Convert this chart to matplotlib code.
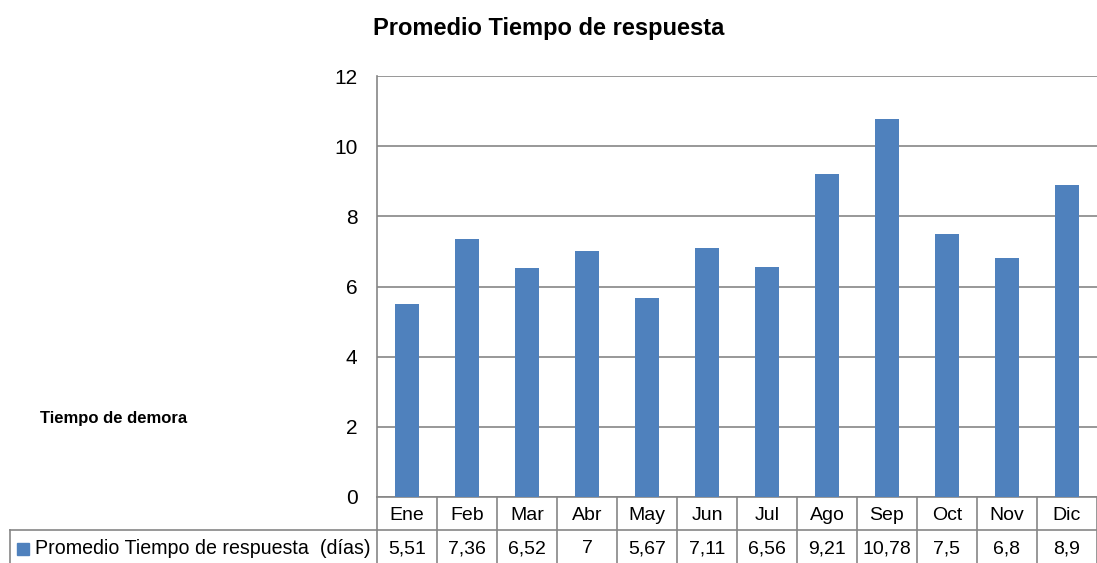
import matplotlib
matplotlib.use("Agg")
import matplotlib.pyplot as plt
import matplotlib.transforms as mtransforms
from matplotlib.patches import Rectangle
from matplotlib import font_manager

months = ["Ene", "Feb", "Mar", "Abr", "May", "Jun", "Jul", "Ago", "Sep", "Oct", "Nov", "Dic"]
values = [5.51, 7.36, 6.52, 7, 5.67, 7.11, 6.56, 9.21, 10.78, 7.5, 6.8, 8.9]
value_labels = ["5,51", "7,36", "6,52", "7", "5,67", "7,11", "6,56", "9,21", "10,78", "7,5", "6,8", "8,9"]
series_name = "Promedio Tiempo de respuesta  (días)"
title = "Promedio Tiempo de respuesta"
ylabel = "Tiempo de demora"
yticks = [0, 2, 4, 6, 8, 10, 12]

names = {f.name for f in font_manager.fontManager.ttflist}
fam = "Liberation Sans Narrow" if "Liberation Sans Narrow" in names else "Liberation Sans"
plt.rcParams["font.family"] = [fam, "DejaVu Sans"]

W, H = 1097, 563
fig = plt.figure(figsize=(W / 100, H / 100), dpi=100)
bar_color = "#4F81BD"
grid_color = "#868686"

# axes: left 377, right 1097, top 76, bottom 497 (pixels)
L, R, T, B = 377, 1097, 76, 497
ax = fig.add_axes([L / W, 1 - B / H, (R - L) / W, (B - T) / H])
x = list(range(len(months)))
ax.bar(x, values, width=0.39, color=bar_color, zorder=3)
ax.set_xlim(-0.5, len(months) - 0.5)
ax.set_ylim(0, 12)
ax.set_yticks(yticks)
ax.set_yticklabels([str(v) for v in yticks], fontsize=15)
ax.tick_params(axis="y", length=0, pad=14)
ax.set_xticks([])
ax.yaxis.grid(True, color=grid_color, linewidth=1.2, zorder=0)
for s in ["top", "right"]:
    ax.spines[s].set_visible(False)
ax.spines["left"].set_color(grid_color)
ax.spines["left"].set_linewidth(1.2)
ax.spines["bottom"].set_color(grid_color)
ax.spines["bottom"].set_linewidth(1.2)

# data table
row1_top, row1_bot, row2_bot = 497, 530, 563
tr = mtransforms.blended_transform_factory(ax.transData, fig.transFigure)
def fy(p):
    return 1 - p / H
lw = 1.2
for i in range(len(months) + 1):
    xx = i - 0.5
    ax.plot([xx, xx], [fy(row1_top), fy(row2_bot)], transform=tr, color=grid_color,
            lw=lw, clip_on=False)
ax.plot([-0.5, len(months) - 0.5], [fy(row1_bot), fy(row1_bot)], transform=tr,
        color=grid_color, lw=lw, clip_on=False)
fig.add_artist(plt.Line2D([10 / W, L / W], [fy(row1_bot), fy(row1_bot)], color=grid_color, lw=lw))
fig.add_artist(plt.Line2D([10 / W, 10 / W], [fy(row1_bot), fy(row2_bot)], color=grid_color, lw=lw))
for i, m in enumerate(months):
    ax.text(i, fy((row1_top + row1_bot) / 2 + 2), m, transform=tr, ha="center", va="center", fontsize=14)
    ax.text(i, fy((row1_bot + row2_bot) / 2 + 2), value_labels[i], transform=tr, ha="center",
            va="center", fontsize=14)
fig.add_artist(Rectangle((17 / W, fy(555)), 12 / W, 12 / H, color=bar_color, transform=fig.transFigure))
fig.text(35 / W, fy(548), series_name, ha="left", va="center", fontsize=14.1)

fig.text(549 / W, fy(28), title, ha="center", va="center", fontsize=17, fontweight="bold")
fig.text(40 / W, fy(418), ylabel, ha="left", va="center", fontsize=12, fontweight="bold")

fig.savefig("out.png", dpi=100)
